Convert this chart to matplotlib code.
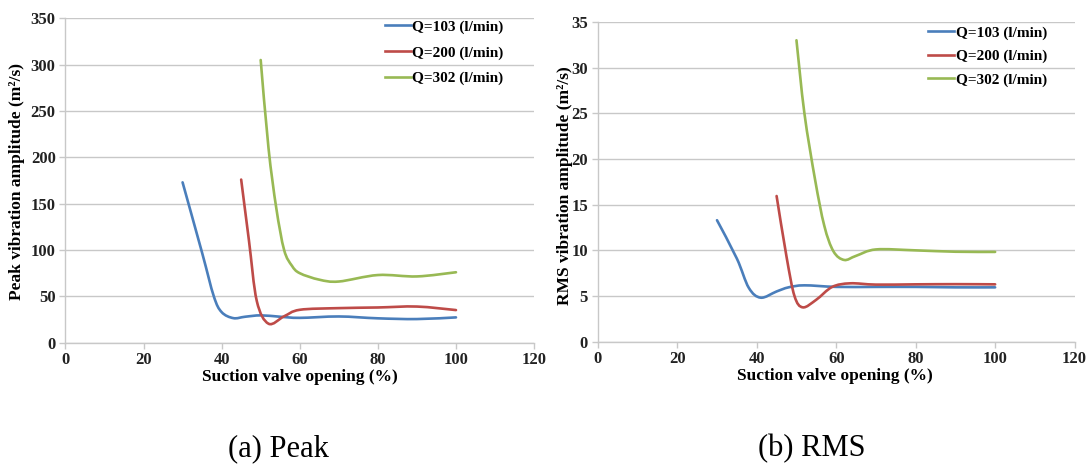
import matplotlib
matplotlib.use("Agg")
import matplotlib.pyplot as plt
from matplotlib.path import Path
from matplotlib.patches import PathPatch
from matplotlib.lines import Line2D

plt.rcParams['font.family'] = ['Liberation Serif', 'DejaVu Serif']

# ---- data ----
series_labels = ["Q=103 (l/min)", "Q=200 (l/min)", "Q=302 (l/min)"]
colors = ["#4A7EBB", "#BE4B48", "#98B954"]

peak_x_103 = [30, 35, 38, 40, 43, 46, 50, 55, 60, 70, 80, 90, 100]
peak_y_103 = [173, 97, 50, 33, 26.5, 28, 29.5, 28, 26.8, 28.3, 26.3, 25.5, 27.3]
peak_x_200 = [45, 47, 49, 52, 56, 60, 70, 80, 90, 100]
peak_y_200 = [176, 110, 45, 20.5, 28.5, 35.5, 37.3, 38, 39, 35.2]
peak_x_302 = [50, 52, 54, 56, 58, 60, 65, 70, 80, 90, 100]
peak_y_302 = [305, 210, 145, 100, 83, 75, 68, 66, 73, 71.5, 76]

rms_x_103 = [30, 35, 38, 41, 45, 48, 52, 60, 70, 80, 90, 100]
rms_y_103 = [13.3, 9.1, 5.9, 4.82, 5.5, 5.95, 6.17, 6.0, 6.0, 6.0, 5.95, 5.95]
rms_x_200 = [45, 47.5, 49.5, 51.6, 55, 59, 63.5, 70, 80, 90, 100]
rms_y_200 = [15.95, 9.3, 5.0, 3.76, 4.6, 6.0, 6.39, 6.25, 6.28, 6.3, 6.28]
rms_x_302 = [50, 52, 54.7, 57, 59.3, 62, 65, 70, 80, 90, 100]
rms_y_302 = [33.0, 25.0, 17.7, 12.7, 9.9, 8.95, 9.4, 10.1, 10.0, 9.85, 9.83]

x_ticks = [0, 20, 40, 60, 80, 100, 120]
peak_y_ticks = [0, 50, 100, 150, 200, 250, 300, 350]
rms_y_ticks = [0, 5, 10, 15, 20, 25, 30, 35]


def smooth_path(xs, ys):
    """Excel-style smoothed line (Catmull-Rom as cubic Bezier)."""
    pts = list(zip(xs, ys))
    verts = [pts[0]]
    codes = [Path.MOVETO]
    n = len(pts)
    for i in range(n - 1):
        p0 = pts[i - 1] if i > 0 else pts[i]
        p1 = pts[i]
        p2 = pts[i + 1]
        p3 = pts[i + 2] if i + 2 < n else pts[i + 1]
        c1 = (p1[0] + (p2[0] - p0[0]) / 6.0, p1[1] + (p2[1] - p0[1]) / 6.0)
        c2 = (p2[0] - (p3[0] - p1[0]) / 6.0, p2[1] - (p3[1] - p1[1]) / 6.0)
        verts += [c1, c2, p2]
        codes += [Path.CURVE4] * 3
    return Path(verts, codes)


W, H = 1089, 465
fig = plt.figure(figsize=(W / 100, H / 100), dpi=100)
ax1 = fig.add_axes([65.4 / W, 1 - 342.7 / H, (534.1 - 65.4) / W, (342.7 - 18.3) / H])
ax2 = fig.add_axes([597.8 / W, 1 - 341.7 / H, (1074.6 - 597.8) / W, (341.7 - 22.0) / H])

panels = [
    (ax1, [(peak_x_103, peak_y_103), (peak_x_200, peak_y_200), (peak_x_302, peak_y_302)],
     peak_y_ticks, 350, (385, 20), 0.78),
    (ax2, [(rms_x_103, rms_y_103), (rms_x_200, rms_y_200), (rms_x_302, rms_y_302)],
     rms_y_ticks, 35, (928, 26), 0.63),
]

for ax, series, yticks, ymax, leg_px, lspace in panels:
    for (xs, ys), c in zip(series, colors):
        patch = PathPatch(smooth_path(xs, ys), facecolor='none', edgecolor=c,
                          lw=1.9, capstyle='round', joinstyle='round')
        ax.add_patch(patch)
    ax.set_xlim(0, 120)
    ax.set_ylim(0, ymax)
    ax.set_xticks(x_ticks)
    ax.set_yticks(yticks)
    ax.grid(axis='y', color='#C8C8C8', lw=1.0)
    ax.set_axisbelow(True)
    for s in ['top', 'right']:
        ax.spines[s].set_visible(False)
    for s in ['left', 'bottom']:
        ax.spines[s].set_color('#C8C8C8')
        ax.spines[s].set_linewidth(1.0)
    ax.tick_params(axis='both', colors='#C8C8C8', length=4, width=1.0,
                   labelcolor='#222222', labelsize=12)
    ax.tick_params(axis='y', pad=3)
    ax.tick_params(axis='x', pad=2.5)
    for lab in ax.get_xticklabels() + ax.get_yticklabels():
        lab.set_fontweight('bold')
    handles = [Line2D([0], [0], color=c, lw=1.9) for c in colors]
    ax.legend(handles, series_labels, loc='upper left',
              bbox_to_anchor=(leg_px[0] / W, 1 - leg_px[1] / H),
              bbox_transform=fig.transFigure, borderaxespad=0, borderpad=0,
              frameon=False, handlelength=1.7, handletextpad=0.1,
              labelspacing=lspace, prop={'weight': 'bold', 'size': 11})

fig.text(300 / W, 1 - 377 / H, "Suction valve opening (%)", ha='center', va='center',
         fontsize=12.5, fontweight='bold')
fig.text(835 / W, 1 - 376 / H, "Suction valve opening (%)", ha='center', va='center',
         fontsize=12.5, fontweight='bold')
fig.text(17 / W, 1 - 182 / H, "Peak vibration amplitude (m\u00b2/s)", rotation=90,
         ha='center', va='center', fontsize=12.5, fontweight='bold')
fig.text(565 / W, 1 - 186 / H, "RMS vibration amplitude (m\u00b2/s)", rotation=90,
         ha='center', va='center', fontsize=12.5, fontweight='bold')

fig.text(278 / W, 1 - 449 / H, "(a) Peak", ha='center', va='center', fontsize=22)
fig.text(812 / W, 1 - 449 / H, "(b) RMS", ha='center', va='center', fontsize=22)

fig.savefig("out.png", dpi=100)
